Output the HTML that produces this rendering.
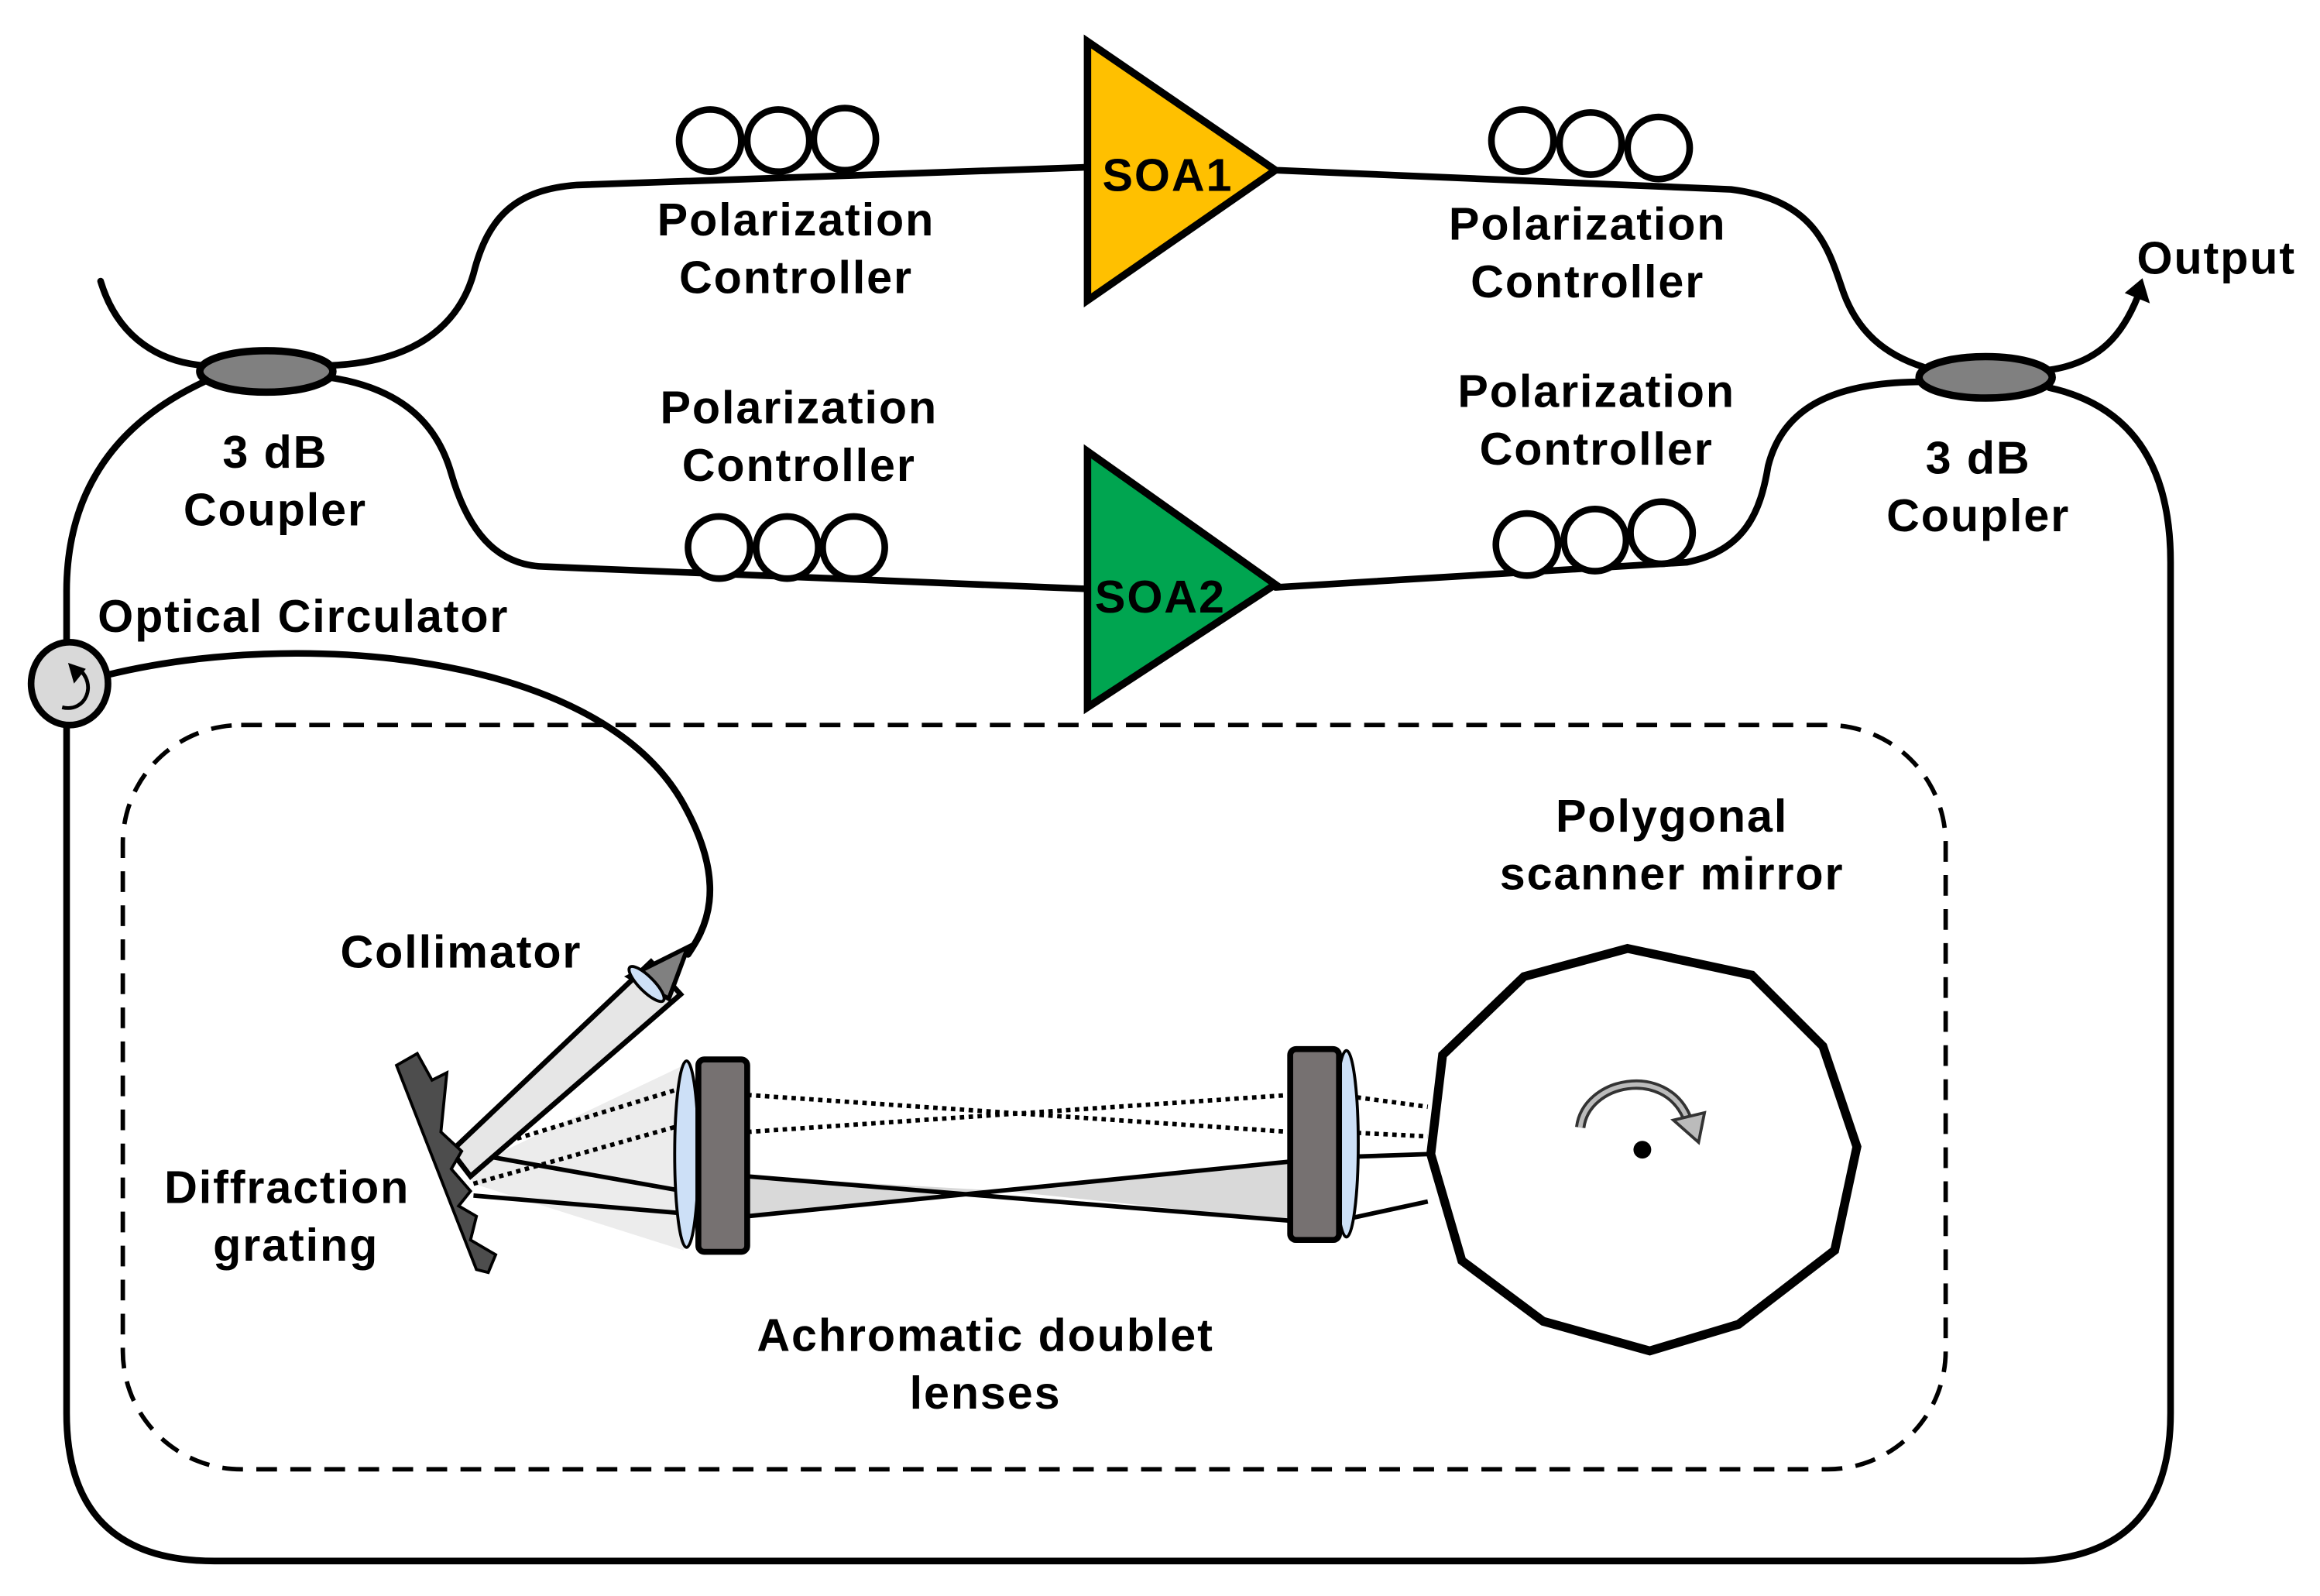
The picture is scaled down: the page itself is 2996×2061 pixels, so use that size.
<!DOCTYPE html>
<html><head><meta charset="utf-8"><style>
html,body{margin:0;padding:0;background:#fff;}
svg{display:block;}
text{font-family:"Liberation Sans",Arial,sans-serif;font-weight:bold;font-size:31px;letter-spacing:1px;fill:#000;}
</style></head><body>
<svg width="2996" height="2061" viewBox="0 0 1568 1078.6" xmlns="http://www.w3.org/2000/svg">
<g fill="none" stroke="#000" stroke-width="4.5" stroke-linecap="round">
<path d="M138,258 C80,285 45,330 45,400 L45,955 Q45,1055 145,1055 L1367,1055 Q1467,1055 1467,955 L1467,380 Q1467,280 1385,262"/>
<path d="M68,190 C80,230 110,245 138,247"/>
<path d="M222,247 C280,245 310,220 320,185 C330,145 350,128 390,125 L735,113"/>
<path d="M862,115 L1170,128 C1225,135 1235,165 1245,195 C1255,225 1275,240 1300,248"/>
<path d="M222,255 C270,262 295,285 305,320 C318,365 340,383 370,383 L735,398"/>
<path d="M862,397 L1140,380 C1180,372 1190,345 1195,315 C1205,275 1240,258 1300,258"/>
<path d="M1385,250 C1420,245 1435,225 1445,200"/>
<path d="M73,456 C200,425 400,440 460,540 C495,600 475,630 465,645"/>
</g>
<path d="M1436,198 L1448,188 L1453,205 Z" fill="#000"/>
<ellipse cx="180" cy="251" rx="45" ry="14" fill="#808080" stroke="#000" stroke-width="5"/>
<ellipse cx="1342" cy="255" rx="45" ry="14" fill="#808080" stroke="#000" stroke-width="5"/>
<polygon points="735,28 735,203 862,115" fill="#FFC000" stroke="#000" stroke-width="5"/>
<polygon points="735,305 735,478 862,395" fill="#00A550" stroke="#000" stroke-width="5"/>
<text x="745" y="129">SOA1</text>
<text x="740" y="414">SOA2</text>
<g fill="#fff" stroke="#000" stroke-width="4.5">
<circle cx="480" cy="95" r="21"/><circle cx="526" cy="95" r="21"/><circle cx="571" cy="94" r="21"/>
<circle cx="1029" cy="95" r="21"/><circle cx="1075" cy="97" r="21"/><circle cx="1121" cy="100" r="21"/>
<circle cx="486" cy="370" r="21"/><circle cx="532" cy="370" r="21"/><circle cx="577" cy="370" r="21"/>
<circle cx="1032" cy="368" r="21"/><circle cx="1078" cy="365" r="21"/><circle cx="1123" cy="360" r="21"/>
</g>
<g text-anchor="middle">
<text x="538" y="159">Polarization</text><text x="538" y="198">Controller</text>
<text x="1073" y="162">Polarization</text><text x="1073" y="201">Controller</text>
<text x="540" y="286">Polarization</text><text x="540" y="325">Controller</text>
<text x="1079" y="275">Polarization</text><text x="1079" y="314">Controller</text>
<text x="186" y="316">3 dB</text><text x="186" y="355">Coupler</text>
<text x="1337" y="320">3 dB</text><text x="1337" y="359">Coupler</text>
<text x="1498" y="185">Output</text>
<text x="1130" y="562">Polygonal</text><text x="1130" y="601">scanner mirror</text>
<text x="666" y="913">Achromatic doublet</text><text x="666" y="952">lenses</text>
<text x="194" y="813">Diffraction</text><text x="200" y="852">grating</text>
</g>
<text x="66" y="427">Optical Circulator</text>
<text x="230" y="654">Collimator</text>
<ellipse cx="47" cy="462" rx="26" ry="28" fill="#d9d9d9" stroke="#000" stroke-width="4.5"/>
<path d="M53,452 C66,462 58,482 42,478" fill="none" stroke="#000" stroke-width="2.5"/>
<path d="M46,448 L58,452 L50,462 Z" fill="#000"/>
<rect x="83" y="490" width="1232" height="503" rx="80" fill="none" stroke="#000" stroke-width="3" stroke-dasharray="14,9"/>
<polygon points="315,790 462,720 462,845 320,800" fill="#ececec"/>
<polygon points="505,795 680,805 505,822" fill="#d9d9d9"/>
<polygon points="680,805 872,785 872,825" fill="#d9d9d9"/>
<g stroke="#000" stroke-width="3" fill="none">
<path d="M310,778 L462,805 M320,808 L462,820 M505,795 L872,825 M505,822 L872,785 M905,825 L965,812 M905,782 L965,780"/>
</g>
<g stroke="#000" stroke-width="3" fill="none" stroke-dasharray="3,3">
<path d="M315,780 L462,735 M320,800 L462,760 M505,740 L872,765 M505,765 L872,740 M905,740 L965,748 M905,765 L965,768"/>
</g>
<polygon points="305,778 440,650 460,672 318,795" fill="#e6e6e6" stroke="#000" stroke-width="3.5"/>
<polygon points="425,660 465,640 452,675" fill="#808080" stroke="#000" stroke-width="3"/>
<ellipse cx="437" cy="665" rx="5" ry="16" transform="rotate(-45 437 665)" fill="#cde0f7" stroke="#000" stroke-width="2"/>
<polygon points="268,720 282,712 292,730 302,725 298,765 312,778 305,790 318,805 310,815 322,822 318,838 335,848 330,860 322,858" fill="#4d4d4d" stroke="#000" stroke-width="2"/>
<ellipse cx="464" cy="780" rx="8" ry="63" fill="#cde0f7" stroke="#000" stroke-width="2"/>
<rect x="472" y="716" width="33" height="130" rx="4" fill="#767171" stroke="#000" stroke-width="4"/>
<ellipse cx="910" cy="773" rx="8" ry="63" fill="#cde0f7" stroke="#000" stroke-width="2"/>
<rect x="872" y="709" width="33" height="129" rx="4" fill="#767171" stroke="#000" stroke-width="4"/>
<polygon points="1100,641 1184,659 1232,707 1255,775 1240,845 1175,895 1115,913 1043,893 988,852 967,780 975,713 1030,660" fill="#fff" stroke="#000" stroke-width="6"/>
<path d="M1068,762 C1072,730 1125,720 1140,755" fill="none" stroke="#333" stroke-width="7"/>
<path d="M1068,762 C1072,730 1125,720 1140,755" fill="none" stroke="#bbb" stroke-width="3"/>
<polygon points="1131,757 1152,752 1148,772" fill="#bbb" stroke="#333" stroke-width="2"/>
<circle cx="1110" cy="777" r="6" fill="#000"/>
</svg>
</body></html>
